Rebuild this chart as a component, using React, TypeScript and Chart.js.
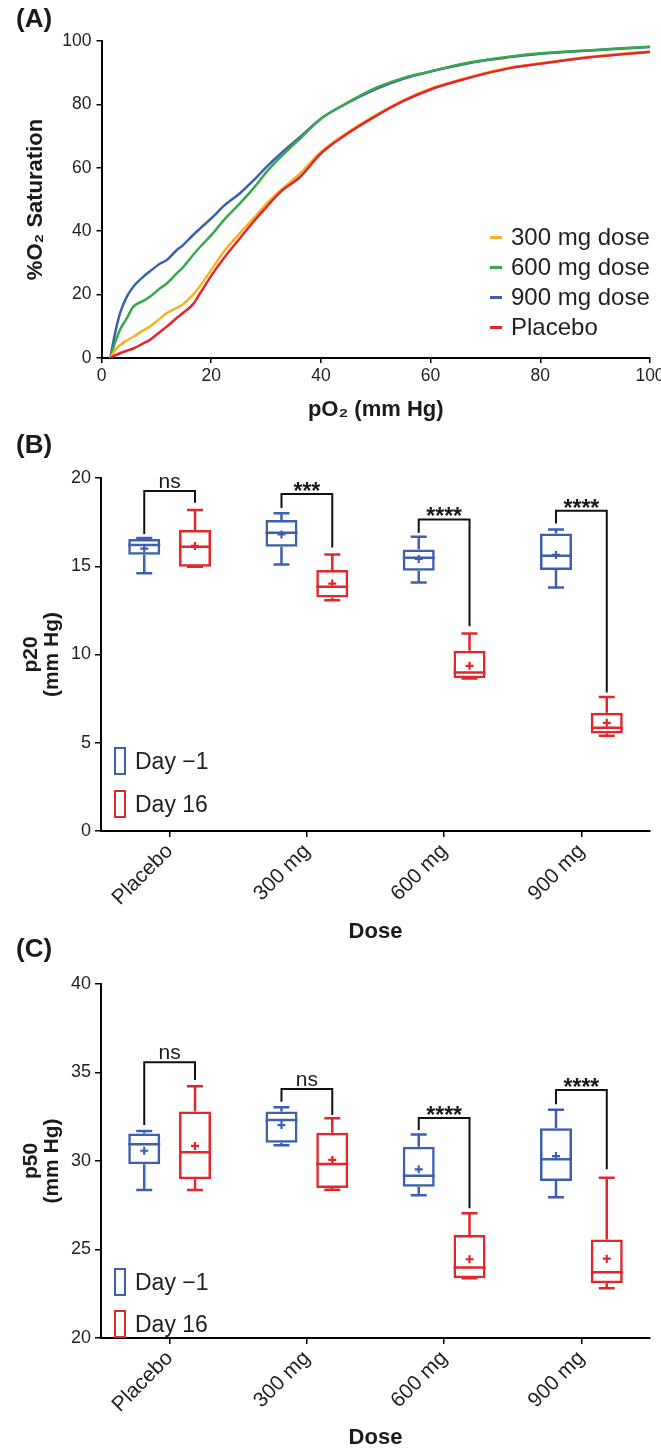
import React, { useEffect, useRef } from 'react';
import { Chart, registerables } from 'chart.js';

Chart.register(...registerables);

const FONT = '"Liberation Sans", Arial, Helvetica, sans-serif';
const INK = '#231f20';

// ---------- Panel A: oxygen dissociation curves ----------
const pO2 = [1.6, 2.5, 3.4, 4.6, 5.8, 7.6, 8.8, 10.7, 11.9, 13.7, 14.8, 16.7, 18, 20.3, 22.3, 25.2, 27.7, 30.1, 32.7, 36.2, 40, 44.6, 50, 55, 60, 65, 70, 75, 80, 85, 90, 95, 100];
const sat300 = [0, 2.5, 4.1, 5.5, 6.7, 8.7, 9.9, 12.5, 14.2, 15.8, 16.9, 20, 22.8, 28.5, 33.5, 39.3, 44, 48.7, 53, 58.2, 65, 70.8, 76.6, 81.3, 85, 87.6, 89.9, 91.8, 93, 94.2, 95.2, 96, 96.7];
const sat600 = [0, 5, 9, 12.5, 16.2, 18, 19.3, 22, 23.5, 26.7, 28.5, 32.5, 35.1, 39.3, 43.5, 48.7, 53.5, 58.7, 63.5, 69.2, 75.5, 80.3, 85.2, 88.3, 90.4, 92.5, 94, 95.2, 96.1, 96.7, 97.2, 97.7, 98.2];
const sat900 = [0, 8, 14.2, 19.3, 22.5, 25.6, 27.3, 29.8, 30.9, 34, 35.5, 38.8, 40.9, 44.5, 48, 51.9, 56, 60.3, 64.5, 69.7, 75.5, 80.2, 84.8, 88.1, 90.4, 92.3, 93.9, 95, 96, 96.6, 97.1, 97.6, 98.1];
const satPlacebo = [0, 0.8, 1.5, 2.3, 3, 4.6, 5.7, 8.3, 9.9, 12.6, 14.1, 17, 20.5, 26.7, 31.5, 37.7, 43, 47.7, 52.5, 57.1, 64.5, 70.5, 76.3, 81, 84.7, 87.4, 89.7, 91.6, 92.8, 94, 95, 95.8, 96.5];
const curveLabels = ['300 mg dose', '600 mg dose', '900 mg dose', 'Placebo'];
const curveColors = ['#f5b324', '#39a84a', '#3d60ad', '#e3262b'];
const curveOrder = [1, 2, 3, 0];

// ---------- Panels B and C: box plots ----------
const doses = ['Placebo', '300 mg', '600 mg', '900 mg'];
const groupLabels = ['Day \u22121', 'Day 16'];
const groupColors = ['#3d5fae', '#e3262b'];

// p20, Day -1
const p20Day1Min = [14.6, 15.1, 14.08, 13.8];
const p20Day1Q1 = [15.65, 16.1, 14.74, 14.79];
const p20Day1Median = [16.2, 16.9, 15.48, 15.6];
const p20Day1Q3 = [16.55, 17.62, 15.95, 16.86];
const p20Day1Max = [16.6, 18.0, 16.67, 17.08];
const p20Day1Mean = [16.0, 16.8, 15.41, 15.64];
// p20, Day 16
const p20Day16Min = [14.97, 13.08, 8.64, 5.39];
const p20Day16Q1 = [14.97, 13.23, 8.66, 5.52];
const p20Day16Median = [16.1, 13.84, 8.98, 5.85];
const p20Day16Q3 = [17.05, 14.79, 10.21, 6.7];
const p20Day16Max = [18.19, 15.67, 11.19, 7.59];
const p20Day16Mean = [16.15, 14.02, 9.36, 6.13];
// p20 significance brackets
const p20BracketTop = [19.26, 19.09, 17.65, 18.15];
const p20BracketLeft = [16.83, 18.3, 16.9, 17.42];
const p20BracketRight = [18.6, 16.06, 11.6, 7.85];
const p20Sig = ['ns', '***', '****', '****'];

// p50, Day -1
const p50Day1Min = [28.36, 30.89, 28.06, 27.95];
const p50Day1Q1 = [29.81, 31.03, 28.55, 28.87];
const p50Day1Median = [30.94, 32.32, 29.17, 30.1];
const p50Day1Q3 = [31.56, 32.79, 30.81, 31.85];
const p50Day1Max = [31.69, 33.03, 31.5, 32.9];
const p50Day1Mean = [30.58, 32.03, 29.53, 30.28];
// p50, Day 16
const p50Day16Min = [28.36, 28.38, 23.37, 22.81];
const p50Day16Q1 = [28.97, 28.47, 23.37, 23.09];
const p50Day16Median = [30.49, 29.83, 23.99, 23.71];
const p50Day16Q3 = [32.79, 31.6, 25.82, 25.57];
const p50Day16Max = [34.22, 32.41, 27.05, 29.06];
const p50Day16Mean = [30.85, 30.06, 24.45, 24.48];
// p50 significance brackets
const p50BracketTop = [35.58, 34.07, 32.43, 34.01];
const p50BracketLeft = [32.03, 33.35, 31.75, 33.2];
const p50BracketRight = [34.58, 32.6, 27.33, 29.53];
const p50Sig = ['ns', 'ns', '****', '****'];

type Stats = { min: number[]; q1: number[]; med: number[]; q3: number[]; max: number[]; mean: number[] };

const fixWidth = (w: number) => (scale: any) => {
  scale.width = w;
  scale.paddingTop = 0;
  scale.paddingBottom = 0;
};
const fixHeight = (h: number) => (scale: any) => {
  scale.height = h;
  scale.paddingLeft = 0;
  scale.paddingRight = 0;
};

function CurvePanel() {
  const ref = useRef<HTMLCanvasElement>(null);
  useEffect(() => {
    const series = [sat300, sat600, sat900, satPlacebo];
    const chart = new Chart(ref.current as HTMLCanvasElement, {
      type: 'scatter',
      data: {
        datasets: series.map((vals, k) => ({
          label: curveLabels[k],
          data: pO2.map((x, i) => ({ x, y: vals[i] })),
          showLine: true,
          borderColor: curveColors[k],
          backgroundColor: curveColors[k],
          borderWidth: 2.5,
          pointRadius: 0,
          cubicInterpolationMode: 'monotone',
          fill: false,
          order: curveOrder[k],
        })),
      },
      options: {
        responsive: false,
        animation: false,
        events: [],
        layout: { padding: { top: 41, right: 11, left: 0, bottom: 0 } },
        plugins: { legend: { display: false }, tooltip: { enabled: false } },
        scales: {
          x: {
            type: 'linear',
            min: 0,
            max: 100,
            ticks: { stepSize: 20, font: { family: FONT, size: 17.5 }, color: INK, padding: 3 },
            grid: { drawOnChartArea: false, tickLength: 5, color: '#000', lineWidth: 1.5 },
            border: { color: '#000', width: 2 },
            title: {
              display: true,
              text: 'pO\u2082 (mm Hg)',
              font: { family: FONT, size: 22, weight: 'bold', lineHeight: 1 },
              color: '#1a1a1a',
              padding: { top: 0, bottom: 4 },
            },
            afterFit: fixHeight(67),
          },
          y: {
            type: 'linear',
            min: 0,
            max: 100,
            ticks: { stepSize: 20, font: { family: FONT, size: 17.5 }, color: INK, padding: 5 },
            grid: { drawOnChartArea: false, tickLength: 5, color: '#000', lineWidth: 1.5 },
            border: { color: '#000', width: 2 },
            title: {
              display: true,
              text: '%O\u2082 Saturation',
              font: { family: FONT, size: 22, weight: 'bold', lineHeight: 1 },
              color: '#1a1a1a',
              padding: { top: 25, bottom: 0 },
            },
            afterFit: fixWidth(101.5),
          },
        },
      },
    } as any);
    return () => chart.destroy();
  }, []);
  return <canvas ref={ref} width={661} height={425} style={{ display: 'block' }} />;
}

type BoxProps = {
  height: number;
  padTop: number;
  axisHeight: number;
  titleBottom: number;
  yMin: number;
  yMax: number;
  yTitle: string[];
  day1: Stats;
  day16: Stats;
  brTop: number[];
  brLeft: number[];
  brRight: number[];
  brText: string[];
};

function BoxPanel(props: BoxProps) {
  const ref = useRef<HTMLCanvasElement>(null);
  useEffect(() => {
    const { day1, day16, brTop, brLeft, brRight, brText } = props;
    const groups = [day1, day16];
    const boxPlugin = {
      id: 'boxDetails',
      afterDatasetsDraw(chart: any) {
        const ctx = chart.ctx as CanvasRenderingContext2D;
        const ys = chart.scales.y;
        groups.forEach((g, d) => {
          const meta = chart.getDatasetMeta(d);
          ctx.save();
          ctx.strokeStyle = groupColors[d];
          ctx.lineWidth = 2.5;
          meta.data.forEach((bar: any, i: number) => {
            const x = bar.x;
            const w = bar.width;
            const cap = w * 0.5;
            const pMin = ys.getPixelForValue(g.min[i]);
            const pQ1 = ys.getPixelForValue(g.q1[i]);
            const pMed = ys.getPixelForValue(g.med[i]);
            const pQ3 = ys.getPixelForValue(g.q3[i]);
            const pMax = ys.getPixelForValue(g.max[i]);
            const pMean = ys.getPixelForValue(g.mean[i]);
            ctx.beginPath();
            if (g.max[i] > g.q3[i]) {
              ctx.moveTo(x, pQ3);
              ctx.lineTo(x, pMax);
            }
            ctx.moveTo(x - cap / 2, pMax);
            ctx.lineTo(x + cap / 2, pMax);
            if (g.min[i] < g.q1[i]) {
              ctx.moveTo(x, pQ1);
              ctx.lineTo(x, pMin);
            }
            ctx.moveTo(x - cap / 2, pMin);
            ctx.lineTo(x + cap / 2, pMin);
            ctx.moveTo(x - w / 2, pMed);
            ctx.lineTo(x + w / 2, pMed);
            ctx.stroke();
            ctx.beginPath();
            ctx.lineWidth = 2.2;
            ctx.moveTo(x - 4, pMean);
            ctx.lineTo(x + 4, pMean);
            ctx.moveTo(x, pMean - 4);
            ctx.lineTo(x, pMean + 4);
            ctx.stroke();
            ctx.lineWidth = 2.5;
          });
          ctx.restore();
        });
        const m0 = chart.getDatasetMeta(0);
        const m1 = chart.getDatasetMeta(1);
        ctx.save();
        ctx.strokeStyle = '#111';
        ctx.fillStyle = '#1a1a1a';
        ctx.lineWidth = 2;
        ctx.textAlign = 'center';
        ctx.textBaseline = 'alphabetic';
        brTop.forEach((v, i) => {
          const xL = m0.data[i].x;
          const xR = m1.data[i].x;
          const yT = ys.getPixelForValue(v);
          ctx.beginPath();
          ctx.moveTo(xL, ys.getPixelForValue(brLeft[i]));
          ctx.lineTo(xL, yT);
          ctx.lineTo(xR, yT);
          ctx.lineTo(xR, ys.getPixelForValue(brRight[i]));
          ctx.stroke();
          const t = brText[i];
          if (t === 'ns') {
            ctx.font = `21px ${FONT}`;
            ctx.fillText(t, (xL + xR) / 2, yT - 3);
          } else {
            ctx.font = `bold 23px ${FONT}`;
            ctx.fillText(t, (xL + xR) / 2, yT + 5);
          }
        });
        ctx.restore();
      },
    };
    const chart = new Chart(ref.current as HTMLCanvasElement, {
      type: 'bar',
      data: {
        labels: doses,
        datasets: groups.map((g, d) => ({
          label: groupLabels[d],
          data: g.q1.map((q, i) => [q, g.q3[i]]),
          backgroundColor: 'rgba(255,255,255,0)',
          borderColor: groupColors[d],
          borderWidth: 2.5,
          borderSkipped: false,
          categoryPercentage: 0.74,
          barPercentage: 0.63,
        })),
      },
      options: {
        responsive: false,
        animation: false,
        events: [],
        layout: { padding: { top: props.padTop, right: 11, left: 0, bottom: 0 } },
        plugins: { legend: { display: false }, tooltip: { enabled: false } },
        scales: {
          x: {
            type: 'category',
            offset: true,
            ticks: { maxRotation: 45, minRotation: 45, font: { family: FONT, size: 21 }, color: INK, padding: 2 },
            grid: { offset: false, drawOnChartArea: false, tickLength: 6, color: '#000', lineWidth: 1.5 },
            border: { color: '#000', width: 2 },
            title: {
              display: true,
              text: 'Dose',
              font: { family: FONT, size: 22, weight: 'bold', lineHeight: 1 },
              color: '#1a1a1a',
              padding: { top: 0, bottom: props.titleBottom },
            },
            afterFit: fixHeight(props.axisHeight),
          },
          y: {
            type: 'linear',
            min: props.yMin,
            max: props.yMax,
            ticks: { stepSize: 5, font: { family: FONT, size: 18 }, color: INK, padding: 4 },
            grid: { drawOnChartArea: false, tickLength: 6, color: '#000', lineWidth: 1.5 },
            border: { color: '#000', width: 2 },
            title: {
              display: true,
              text: props.yTitle,
              font: { family: FONT, size: 21, weight: 'bold', lineHeight: 1 },
              color: '#1a1a1a',
              padding: { top: 20.5, bottom: 0 },
            },
            afterFit: fixWidth(101),
          },
        },
      },
      plugins: [boxPlugin],
    } as any);
    return () => chart.destroy();
  }, []);
  return <canvas ref={ref} width={661} height={props.height} style={{ display: 'block' }} />;
}

const abs = (left: number, top: number, extra: React.CSSProperties = {}): React.CSSProperties => ({
  position: 'absolute',
  left,
  top,
  ...extra,
});

function PanelLabel({ text, top }: { text: string; top: number }) {
  return (
    <div style={abs(16, top, { fontFamily: FONT, fontWeight: 'bold', fontSize: 26, lineHeight: '26px', color: '#1a1a1a', whiteSpace: 'nowrap' })}>
      {text}
    </div>
  );
}

function BoxLegend({ tops }: { tops: number[] }) {
  return (
    <>
      {groupLabels.map((lab, d) => (
        <React.Fragment key={lab}>
          <div
            style={abs(114, tops[d], {
              width: 12,
              height: 28,
              boxSizing: 'border-box',
              border: `2.5px solid ${groupColors[d]}`,
              background: '#fff',
            })}
          />
          <div style={abs(135, tops[d] + 2, { fontFamily: FONT, fontSize: 23, lineHeight: '24px', color: INK, whiteSpace: 'nowrap' })}>
            {lab}
          </div>
        </React.Fragment>
      ))}
    </>
  );
}

export default function App() {
  const p20Day1: Stats = { min: p20Day1Min, q1: p20Day1Q1, med: p20Day1Median, q3: p20Day1Q3, max: p20Day1Max, mean: p20Day1Mean };
  const p20Day16: Stats = { min: p20Day16Min, q1: p20Day16Q1, med: p20Day16Median, q3: p20Day16Q3, max: p20Day16Max, mean: p20Day16Mean };
  const p50Day1: Stats = { min: p50Day1Min, q1: p50Day1Q1, med: p50Day1Median, q3: p50Day1Q3, max: p50Day1Max, mean: p50Day1Mean };
  const p50Day16: Stats = { min: p50Day16Min, q1: p50Day16Q1, med: p50Day16Median, q3: p50Day16Q3, max: p50Day16Max, mean: p50Day16Mean };
  const legendRows = [237, 267, 297, 327];
  return (
    <div style={{ position: 'absolute', left: 0, top: 0, width: 661, height: 1449, overflow: 'hidden', background: '#fff' }}>
      <div style={abs(0, 0)}>
        <CurvePanel />
      </div>
      <div style={abs(0, 430)}>
        <BoxPanel
          height={516}
          padTop={48}
          axisHeight={115}
          titleBottom={3}
          yMin={0}
          yMax={20}
          yTitle={['p20', '(mm Hg)']}
          day1={p20Day1}
          day16={p20Day16}
          brTop={p20BracketTop}
          brLeft={p20BracketLeft}
          brRight={p20BracketRight}
          brText={p20Sig}
        />
      </div>
      <div style={abs(0, 946)}>
        <BoxPanel
          height={503}
          padTop={38}
          axisHeight={111}
          titleBottom={0}
          yMin={20}
          yMax={40}
          yTitle={['p50', '(mm Hg)']}
          day1={p50Day1}
          day16={p50Day16}
          brTop={p50BracketTop}
          brLeft={p50BracketLeft}
          brRight={p50BracketRight}
          brText={p50Sig}
        />
      </div>
      <PanelLabel text="(A)" top={5} />
      <PanelLabel text="(B)" top={431} />
      <PanelLabel text="(C)" top={935} />
      {curveLabels.map((lab, k) => (
        <React.Fragment key={lab}>
          <div style={abs(490, legendRows[k] - 1.5, { width: 12, height: 3, background: curveColors[k] })} />
          <div style={abs(511, legendRows[k] - 13, { fontFamily: FONT, fontSize: 24, lineHeight: '26px', color: INK, whiteSpace: 'nowrap' })}>
            {lab}
          </div>
        </React.Fragment>
      ))}
      <BoxLegend tops={[747, 790]} />
      <BoxLegend tops={[1268, 1310]} />
    </div>
  );
}
